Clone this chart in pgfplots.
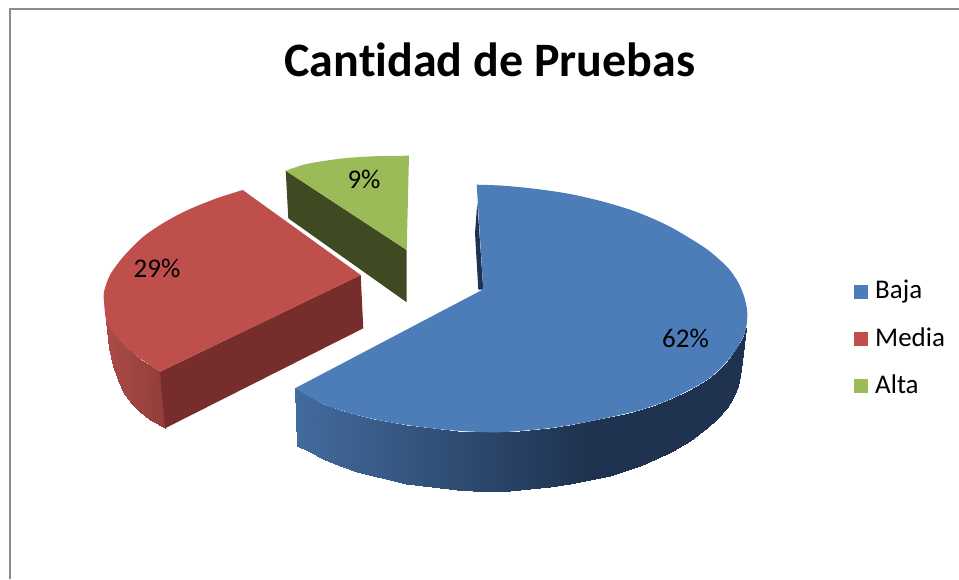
\documentclass[border=0pt]{standalone}
\usepackage{fontspec}
\setmainfont{Carlito}[Ligatures=NoCommon]
\usepackage{pgfplots}
\pgfplotsset{compat=1.18}
\definecolor{BlueTop}{HTML}{4D7DB9}
\definecolor{BlueIn}{HTML}{1F3350}
\definecolor{RedTop}{HTML}{BE4F4B}
\definecolor{RedIn}{HTML}{762D2B}
\definecolor{GreenTop}{HTML}{9BBB59}
\definecolor{GreenIn}{HTML}{3F4A22}
\definecolor{Frame}{HTML}{8C8C8C}
\pgfplotsset{
 colormap={bluewall}{rgb255(0cm)=(67,107,158); rgb255(13cm)=(31,51,80); rgb255(20cm)=(31,51,80)},
 colormap={redwall}{rgb255(0cm)=(172,76,72); rgb255(20cm)=(146,62,58)},
}
\begin{document}
\begin{tikzpicture}
\begin{axis}[
 hide axis,scale only axis,
 width=959pt,height=579pt,
 xmin=0,xmax=959,ymin=0,ymax=579,y dir=reverse,
 point meta min=0,point meta max=1,
 legend style={at={(axis cs:854,280)},anchor=north west,draw=none,fill=none,
  font=\fontsize{27}{27}\selectfont,row sep=27pt,inner sep=0pt,
  nodes={inner sep=0pt,anchor=base west}},
 legend cell align=left,
 legend image code/.code={\fill[#1,draw=none] (0pt,0pt) rectangle (14pt,14pt);},
]
\path (rel axis cs:0,0) rectangle (rel axis cs:1,1);
% frame
\addplot[Frame,line width=2pt,forget plot] coordinates {(9.5,579)(9.5,8.5)(959,8.5)};
% red slice
\addplot[surf,shader=interp,colormap name=redwall,mesh/cols=2,point meta=explicit,forget plot] table[meta=m] {
x y m
105 311 0
105 311 0
106.7 321.7 .04
107 330 .04
110 328 .1
109.5 348 .1
116.7 336.7 .2
113.5 366 .2
120.5 341 .27
118 380 .27
125 345.5 .33
123.3 391.7 .33
133.3 353.3 .47
131 402.5 .47
141 359.5 .6
139 411 .6
150 365 .77
150 420 .77
160 371.7 1
165 428.3 1
};
\addplot[fill=RedIn,draw=none,forget plot] coordinates {(160,371.7)(360.7,275)(363.3,328.3)(165,428.3)} -- cycle;
\addplot[fill=RedTop,draw=none,smooth,forget plot] coordinates {(242.7,190)(216.7,198.3)(190,209)(166.7,221)(143.3,236.7)(123.3,256.7)(110,275)(104,291.7)(104,301.7)(106.7,321.7)(116.7,336.7)(133.3,353.3)(150,365)(160,371.7)} -- cycle;
\addplot[fill=RedTop,draw=none,forget plot] coordinates {(242.7,190)(150,280)(160,371.7)(360.7,275)} -- cycle;
% green slice
\addplot[fill=GreenIn,draw=none,forget plot] coordinates {(285.7,170.7)(406.7,250)(406.7,302.3)(288.3,218.3)} -- cycle;
\addplot[fill=GreenTop,draw=none,smooth,forget plot] coordinates {(285.7,170.7)(306.7,164)(340,158.7)(373,156.3)(409,155.7)} -- cycle;
\addplot[fill=GreenTop,draw=none,forget plot] coordinates {(285.7,170.7)(350,160.5)(409,155.7)(406.7,250)} -- cycle;
% blue slice
\addplot[fill=BlueIn,draw=none,forget plot] coordinates {(477.3,203)(475,233)(478.3,289.5)(483.3,289.5)} -- cycle;
\addplot[surf,shader=interp,colormap name=bluewall,mesh/cols=2,point meta=explicit,forget plot] table[meta=m] {
x y m
295 388.3 0
297.3 446 0
310 397 .034
310 452.4 .034
323.3 404 .063
323.3 458.8 .063
340 410 .101
340 465.7 .101
356.7 415 .138
356.7 471.5 .138
373 419 .174
373 476.3 .174
390 422.3 .213
390 480.4 .213
406 425 .248
406 483.6 .248
423.3 427.3 .287
423.3 486.4 .287
440 429.2 .324
440 488.4 .324
456.7 430.7 .362
456.7 489.9 .362
473 431.8 .398
473 490.8 .398
490 432.3 .436
490 491 .436
510 431.7 .481
510 490.6 .481
530 430.3 .526
530 489.4 .526
550 428 .57
550 487.3 .57
570 425 .615
570 484.3 .615
590 421.3 .66
590 480.4 .66
610 417 .705
610 475.5 .705
625 413.5 .738
625 471 .738
640 410 .772
640 465.7 .772
656 404.5 .808
656 459.2 .808
673 398 .846
673 450.9 .846
690 389.5 .884
690 440.8 .884
706.7 380 .921
706.7 428.4 .921
717 372 .944
717 418.8 .944
726.7 361.7 .966
726.7 407.5 .966
734 352 .982
734 396.4 .982
740 343.3 .996
737.5 386 .996
744 335 .999
741 370 .999
746 328.3 1
746 328.3 1
};
\addplot[fill=BlueTop,draw=none,smooth,forget plot] coordinates {(476.7,184.7)(503.3,185.7)(536.7,189)(570,194)(603.3,201.7)(636.7,212)(670,226.7)(703.3,246.7)(717,257.5)(729,269)(738,282)(744,296)(747.3,312)(746,328.3)(740,343.3)(726.7,361.7)(706.7,380)(673,398)(640,410)(590,421.3)(550,428)} -- cycle;
\addplot[fill=BlueTop,draw=none,smooth,forget plot] coordinates {(640,410)(590,421.3)(550,428)(510,431.7)(490,432.3)(456.7,430.7)(423.3,427.3)(390,422.3)(356.7,415)(323.3,404)(295,388.3)} -- cycle;
\addplot[fill=BlueTop,draw=none,forget plot] coordinates {(476.7,184.7)(620,300)(600,410)(400,415)(295,388.3)(483.3,289.3)} -- cycle;
% legend
\addlegendimage{fill=BlueTop}\addlegendentry{\hspace{7pt}Baja}
\addlegendimage{fill=RedTop}\addlegendentry{\hspace{7pt}Media}
\addlegendimage{fill=GreenTop}\addlegendentry{\hspace{7pt}Alta}
% text
\node[font=\fontsize{48}{48}\selectfont\bfseries] at (axis cs:490,60) {Cantidad de Pruebas};
\node[font=\fontsize{27}{27}\selectfont] at (axis cs:685.5,338) {62\%};
\node[font=\fontsize{27}{27}\selectfont] at (axis cs:157,268) {29\%};
\node[font=\fontsize{27}{27}\selectfont] at (axis cs:364,179) {9\%};
\end{axis}
\end{tikzpicture}
\end{document}
